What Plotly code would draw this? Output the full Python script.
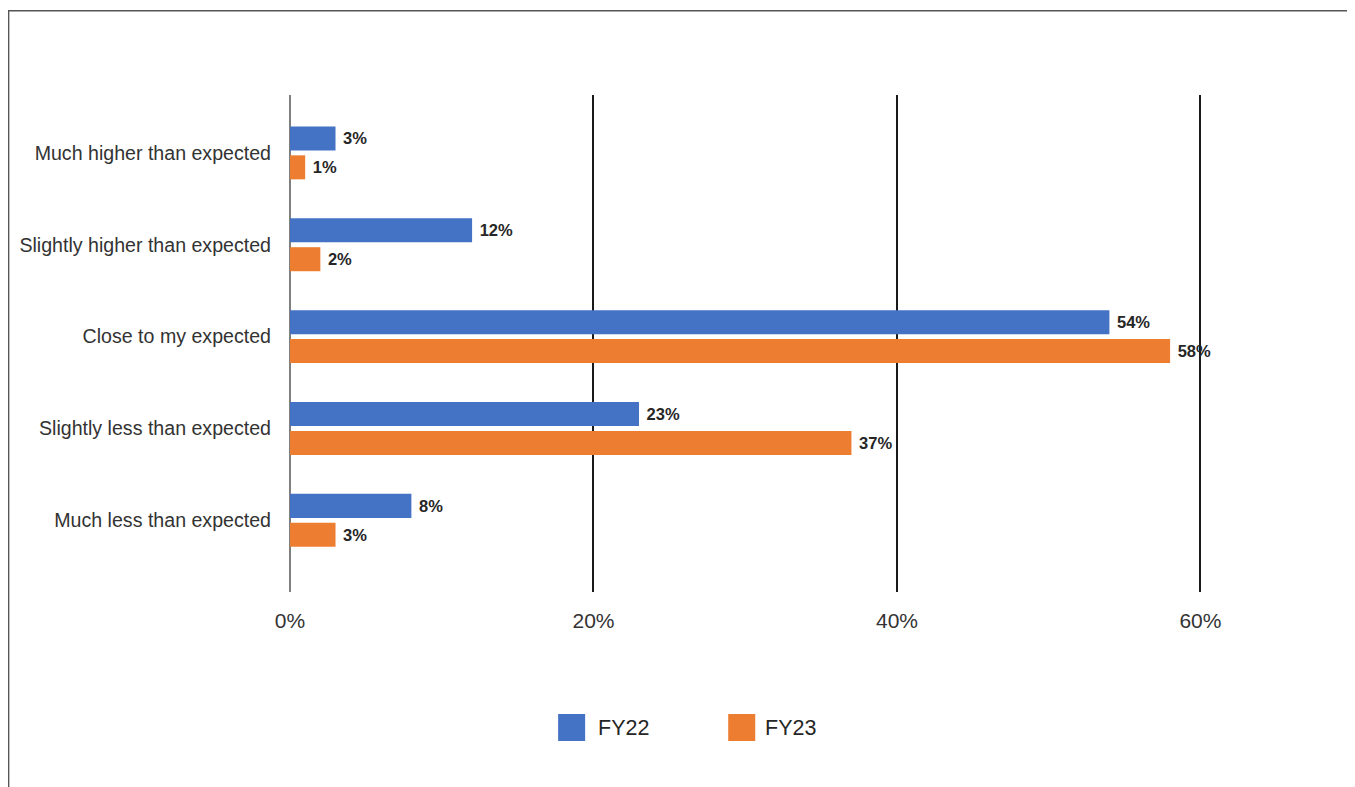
import plotly.graph_objects as go

# --- данные ---
categories = ['Much higher than expected', 'Slightly higher than expected',
              'Close to my expected', 'Slightly less than expected',
              'Much less than expected']
fy22 = [0.03, 0.12, 0.54, 0.23, 0.08]
fy23 = [0.01, 0.02, 0.58, 0.37, 0.03]
series_names = ['FY22', 'FY23']
series_colors = ['#4472C4', '#ED7D31']
x_ticks = [0, 0.2, 0.4, 0.6]
x_tick_labels = ['0%', '20%', '40%', '60%']

# страница имеет отступ 8px, поэтому всё в координатах фигуры сдвинуто на -8
OFF = 8
W, H = 1355 - OFF, 787 - OFF
X_MAX = 0.603
L = 290 - OFF
R = L + X_MAX * (910 / 0.6)
T, B = 95 - OFF, 592 - OFF
FONT = 'Liberation Sans, Arial, sans-serif'


def px(x):
    # экранный x -> paper
    return (x - OFF - L) / (R - L)


def py(y):
    # экранный y -> paper
    return (B - (y - OFF)) / (B - T)


fig = go.Figure()
for name, vals, color in zip(series_names, [fy22, fy23], series_colors):
    fig.add_trace(go.Bar(
        y=categories, x=vals, name=name, orientation='h',
        marker=dict(color=color, line=dict(width=0)),
        texttemplate='\u00a0%{x:.0%}', textposition='outside', cliponaxis=False,
        textfont=dict(family=FONT, size=16.5, color='#262626', weight='bold'),
        showlegend=False,
    ))

# рамка
shapes = [dict(type='rect', xref='paper', yref='paper',
               x0=px(8.75), x1=px(1400), y0=py(830), y1=py(10.75),
               line=dict(color='#555555', width=1.5), fillcolor='rgba(0,0,0,0)')]
annotations = []

# легенда вручную (крупные квадраты)
legend_pos = [(558, 596), (728, 763)]
for (sx, tx), name, color in zip(legend_pos, series_names, series_colors):
    shapes.append(dict(type='rect', xref='paper', yref='paper',
                       x0=px(sx), x1=px(sx + 27), y0=py(741), y1=py(714),
                       line=dict(width=0), fillcolor=color))
    annotations.append(dict(xref='paper', yref='paper', x=px(tx), y=py(727.5),
                            text=name, showarrow=False, xanchor='left', yanchor='middle',
                            font=dict(family=FONT, size=21.5, color='#262626')))

fig.update_layout(
    width=W, height=H,
    margin=dict(l=L, r=W - R, t=T, b=H - B),
    paper_bgcolor='white', plot_bgcolor='white',
    barmode='group', bargap=0.37, bargroupgap=0.17,
    shapes=shapes, annotations=annotations,
    xaxis=dict(range=[0, X_MAX], tickvals=x_ticks, ticktext=x_tick_labels,
               automargin=False,
               showgrid=True, gridcolor='#1a1a1a', gridwidth=1.5,
               zeroline=True, zerolinecolor='#7f7f7f', zerolinewidth=2,
               showline=False, ticks='', ticklabelstandoff=14,
               tickfont=dict(family=FONT, size=21, color='#333333')),
    yaxis=dict(range=[4.78, -0.63], showgrid=False, zeroline=False, showline=False,
               automargin=False, ticks='', ticklabelstandoff=18,
               tickfont=dict(family=FONT, size=19.6, color='#333333')),
)

fig.write_html('out.html')
